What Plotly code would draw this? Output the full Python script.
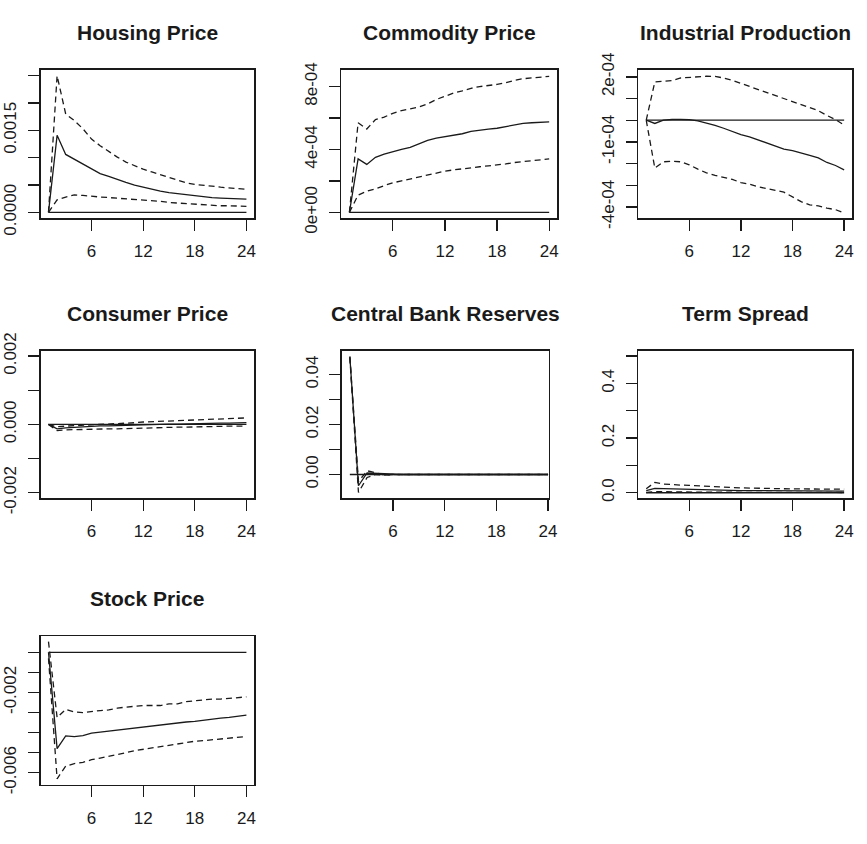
import plotly.graph_objects as go

# Forecast horizons
periods = list(range(1, 25))
x_tick_vals = [6, 12, 18, 24]

# Responses to a housing-price shock: point estimate with lower / upper bands
housing_irf = [0.0, 0.00141, 0.00106, 0.00097, 0.00088, 0.00079, 0.00071, 0.00066, 0.00060, 0.00055, 0.00050, 0.00046,
               0.00042, 0.00039, 0.00036, 0.00034, 0.00032, 0.00031, 0.00029, 0.00027, 0.00026, 0.00025, 0.00024, 0.00024]
housing_upper = [0.0, 0.00250, 0.00180, 0.00168, 0.00153, 0.00134, 0.00122, 0.00111, 0.00101, 0.00092, 0.00085, 0.00079,
                 0.00074, 0.00069, 0.00063, 0.00058, 0.00054, 0.00051, 0.00050, 0.00048, 0.00046, 0.00045, 0.00044, 0.00042]
housing_lower = [0.0, 0.00023, 0.00028, 0.00032, 0.00031, 0.00029, 0.00028, 0.00027, 0.00026, 0.00025, 0.00024, 0.00023,
                 0.00021, 0.00020, 0.00018, 0.00017, 0.00015, 0.00014, 0.00013, 0.00013, 0.00012, 0.00012, 0.00011, 0.00011]

commodity_irf = [0.0, 3.40e-4, 3.05e-4, 3.50e-4, 3.70e-4, 3.87e-4, 4.00e-4, 4.13e-4, 4.33e-4, 4.58e-4, 4.72e-4, 4.80e-4,
                 4.88e-4, 5.00e-4, 5.15e-4, 5.20e-4, 5.29e-4, 5.35e-4, 5.45e-4, 5.53e-4, 5.66e-4, 5.70e-4, 5.72e-4, 5.76e-4]
commodity_upper = [0.0, 5.70e-4, 5.30e-4, 5.90e-4, 6.06e-4, 6.30e-4, 6.47e-4, 6.60e-4, 6.70e-4, 6.90e-4, 7.18e-4, 7.38e-4,
                   7.59e-4, 7.73e-4, 7.89e-4, 8.00e-4, 8.06e-4, 8.14e-4, 8.24e-4, 8.40e-4, 8.50e-4, 8.55e-4, 8.60e-4, 8.65e-4]
commodity_lower = [0.0, 1.10e-4, 1.35e-4, 1.50e-4, 1.70e-4, 1.88e-4, 2.00e-4, 2.12e-4, 2.25e-4, 2.40e-4, 2.50e-4, 2.62e-4,
                   2.70e-4, 2.78e-4, 2.85e-4, 2.90e-4, 2.96e-4, 3.00e-4, 3.08e-4, 3.17e-4, 3.22e-4, 3.26e-4, 3.33e-4, 3.40e-4]

industrial_irf = [0.0, -0.15e-4, 0.0, 0.04e-4, 0.04e-4, 0.03e-4, -0.03e-4, -0.12e-4, -0.24e-4, -0.37e-4, -0.52e-4, -0.66e-4,
                  -0.77e-4, -0.91e-4, -1.06e-4, -1.21e-4, -1.33e-4, -1.40e-4, -1.50e-4, -1.62e-4, -1.74e-4, -1.95e-4, -2.09e-4, -2.29e-4]
industrial_upper = [0.0, 1.77e-4, 1.80e-4, 1.83e-4, 1.95e-4, 1.98e-4, 2.02e-4, 2.03e-4, 2.02e-4, 1.95e-4, 1.84e-4, 1.70e-4,
                    1.55e-4, 1.43e-4, 1.30e-4, 1.14e-4, 1.00e-4, 0.86e-4, 0.71e-4, 0.59e-4, 0.44e-4, 0.22e-4, 0.03e-4, -0.22e-4]
industrial_lower = [0.0, -2.21e-4, -1.92e-4, -1.89e-4, -1.92e-4, -2.06e-4, -2.26e-4, -2.43e-4, -2.55e-4, -2.65e-4, -2.73e-4, -2.88e-4,
                    -2.95e-4, -3.07e-4, -3.17e-4, -3.24e-4, -3.32e-4, -3.54e-4, -3.76e-4, -3.91e-4, -3.95e-4, -4.06e-4, -4.13e-4, -4.28e-4]

consumer_irf = [0.0, -0.00013, -0.00010, -0.00008, -0.00007, -0.00005, -0.00004, -0.00004, -0.00003, -0.00002, -0.00002, -0.00001,
                0.0, 0.0, 0.00001, 0.00001, 0.00002, 0.00002, 0.00003, 0.00003, 0.00004, 0.00004, 0.00005, 0.00005]
consumer_upper = [0.0, -0.00007, -0.00005, -0.00004, -0.00003, -0.00002, -0.00001, 0.0, 0.00002, 0.00004, 0.00005, 0.00007,
                  0.00008, 0.00010, 0.00012, 0.00013, 0.00014, 0.00015, 0.00016, 0.00017, 0.00018, 0.00018, 0.00019, 0.00019]
consumer_lower = [0.0, -0.00018, -0.00016, -0.00015, -0.00015, -0.00014, -0.00014, -0.00013, -0.00013, -0.00012, -0.00011, -0.00011,
                  -0.00010, -0.00009, -0.00009, -0.00008, -0.00008, -0.00007, -0.00007, -0.00006, -0.00006, -0.00005, -0.00005, -0.00005]

reserves_irf = [0.0472, -0.0045, 0.0006, 0.0004, 0.0001, 0.0, 0.0, 0.0, 0.0, 0.0, 0.0, 0.0,
                0.0, 0.0, 0.0, 0.0, 0.0, 0.0, 0.0, 0.0, 0.0, 0.0, 0.0, 0.0]
reserves_upper = [0.0472, -0.0028, 0.0015, 0.0007, -0.0002, 0.0, 0.0, 0.0, 0.0, 0.0, 0.0, 0.0,
                  0.0, 0.0, 0.0, 0.0, 0.0, 0.0, 0.0, 0.0, 0.0, 0.0, 0.0, 0.0]
reserves_lower = [0.0468, -0.0072, -0.0012, 0.0000, -0.0002, 0.0, 0.0, 0.0, 0.0, 0.0, 0.0, 0.0,
                  0.0, 0.0, 0.0, 0.0, 0.0, 0.0, 0.0, 0.0, 0.0, 0.0, 0.0, 0.0]

spread_irf = [0.008, 0.016, 0.015, 0.014, 0.013, 0.012, 0.011, 0.010, 0.010, 0.009, 0.009, 0.008,
              0.008, 0.008, 0.007, 0.007, 0.007, 0.007, 0.007, 0.006, 0.006, 0.006, 0.006, 0.006]
spread_upper = [0.015, 0.038, 0.032, 0.029, 0.028, 0.027, 0.025, 0.024, 0.022, 0.021, 0.019, 0.018,
                0.017, 0.016, 0.016, 0.015, 0.015, 0.014, 0.014, 0.014, 0.013, 0.013, 0.013, 0.013]
spread_lower = [0.001, 0.004, 0.004, 0.003, 0.003, 0.003, 0.002, 0.002, 0.002, 0.002, 0.002, 0.002,
                0.001, 0.001, 0.001, 0.001, 0.001, 0.001, 0.001, 0.001, 0.001, 0.001, 0.001, 0.001]

stock_irf = [0.0, -0.00480, -0.00416, -0.00420, -0.00415, -0.00403, -0.00397, -0.00392, -0.00387, -0.00380, -0.00376, -0.00373,
             -0.00368, -0.00363, -0.00357, -0.00352, -0.00347, -0.00344, -0.00338, -0.00333, -0.00328, -0.00324, -0.00319, -0.00313]
stock_upper = [0.00053, -0.00325, -0.00284, -0.00297, -0.00300, -0.00294, -0.00290, -0.00287, -0.00278, -0.00273, -0.00268, -0.00265,
               -0.00265, -0.00265, -0.00257, -0.00257, -0.00246, -0.00241, -0.00238, -0.00233, -0.00233, -0.00230, -0.00225, -0.00222]
stock_lower = [-0.00030, -0.00630, -0.00567, -0.00554, -0.00548, -0.00535, -0.00527, -0.00519, -0.00511, -0.00500, -0.00490, -0.00483,
               -0.00476, -0.00471, -0.00463, -0.00455, -0.00447, -0.00443, -0.00440, -0.00436, -0.00431, -0.00427, -0.00424, -0.00419]

# Panel titles and y tick labelling
titles = ["Housing Price", "Commodity Price", "Industrial Production",
          "Consumer Price", "Central Bank Reserves", "Term Spread", "Stock Price"]
series = [
    (housing_irf, housing_lower, housing_upper),
    (commodity_irf, commodity_lower, commodity_upper),
    (industrial_irf, industrial_lower, industrial_upper),
    (consumer_irf, consumer_lower, consumer_upper),
    (reserves_irf, reserves_lower, reserves_upper),
    (spread_irf, spread_lower, spread_upper),
    (stock_irf, stock_lower, stock_upper),
]
y_tick_vals = [
    [0.0, 0.0005, 0.0010, 0.0015, 0.0020, 0.0025],
    [0.0, 2e-4, 4e-4, 6e-4, 8e-4],
    [-4e-4, -3e-4, -2e-4, -1e-4, 0.0, 1e-4, 2e-4],
    [-0.002, -0.001, 0.0, 0.001, 0.002],
    [0.0, 0.01, 0.02, 0.03, 0.04],
    [0.0, 0.1, 0.2, 0.3, 0.4, 0.5],
    [-0.006, -0.005, -0.004, -0.003, -0.002, -0.001, 0.0],
]
y_tick_text = [
    ["0.0000", "", "", "0.0015", "", ""],
    ["0e+00", "", "4e-04", "", "8e-04"],
    ["-4e-04", "", "", "-1e-04", "", "", "2e-04"],
    ["-0.002", "", "0.000", "", "0.002"],
    ["0.00", "", "0.02", "", "0.04"],
    ["0.0", "", "0.2", "", "0.4", ""],
    ["-0.006", "", "", "", "-0.002", "", ""],
]

# Layout geometry (pixels in an 867 x 844 page)
W, H = 867, 844
boxes = [  # left, right, top, bottom of each plot box
    (41, 257, 54, 209), (345, 563, 54, 209), (645, 861, 54, 209),
    (41, 257, 347, 501), (345.5, 554.5, 347, 501), (645, 861, 347, 501),
    (41, 257, 645, 800),
]
x_ranges = [(0.08, 24.92)] * 4 + [(0.08, 24.08)] + [(0.08, 24.92)] * 2
y_ranges = [(-0.00011, 0.00261), (-0.38e-4, 9.07e-4), (-4.53e-4, 2.33e-4),
            (-0.00216, 0.00216), (-0.0095, 0.0496), (-0.02, 0.52), (-0.0066, 0.0008)]
title_y = [15, 15, 15, 308, 308, 308, 606]

FONT = "Liberation Sans, Arial, sans-serif"
INK = "#1a1a1a"

fig = go.Figure()
layout = dict(
    width=W, height=H, margin=dict(l=0, r=0, t=0, b=0),
    paper_bgcolor="white", plot_bgcolor="white", showlegend=False,
    font=dict(family=FONT, size=17, color=INK), annotations=[],
)

for i, (title, (irf, lo, up)) in enumerate(zip(titles, series)):
    n = "" if i == 0 else str(i + 1)
    xa, ya = "x" + n, "y" + n
    left, right, top, bottom = boxes[i]

    zero = [0.0 for _ in periods]
    fig.add_trace(go.Scatter(x=periods, y=zero, mode="lines", xaxis=xa, yaxis=ya,
                             line=dict(color=INK, width=1.3)))
    fig.add_trace(go.Scatter(x=periods, y=irf, mode="lines", xaxis=xa, yaxis=ya,
                             line=dict(color=INK, width=1.3)))
    for band in (lo, up):
        fig.add_trace(go.Scatter(x=periods, y=band, mode="lines", xaxis=xa, yaxis=ya,
                                 line=dict(color=INK, width=1.3, dash="6px,4px")))

    axis_common = dict(showgrid=False, zeroline=False, showline=True, mirror=True,
                       linecolor=INK, linewidth=1.5, ticks="outside", ticklen=11,
                       tickwidth=1.3, tickcolor=INK, tickfont=dict(family=FONT, size=17, color=INK))
    layout["xaxis" + n] = dict(axis_common, domain=[left / W, right / W], anchor=ya,
                               range=list(x_ranges[i]), tickmode="array",
                               tickvals=x_tick_vals, ticktext=[str(v) for v in x_tick_vals],
                               ticklabelstandoff=6)
    layout["yaxis" + n] = dict(axis_common, domain=[1 - bottom / H, 1 - top / H], anchor=xa,
                               range=list(y_ranges[i]), tickmode="array",
                               tickvals=y_tick_vals[i], ticktext=y_tick_text[i],
                               tickangle=-90, ticklabelstandoff=5)
    layout["annotations"].append(dict(
        text="<b>" + title + "</b>", xref="paper", yref="paper",
        x=(left + right) / 2 / W, y=1 - title_y[i] / H, xanchor="center", yanchor="middle",
        showarrow=False, font=dict(family=FONT, size=21, color=INK)))

fig.update_layout(**layout)
# static figure on a margin-free page
fig.write_html("out.html", config={"staticPlot": True},
               post_script="document.body.style.margin='0';")
